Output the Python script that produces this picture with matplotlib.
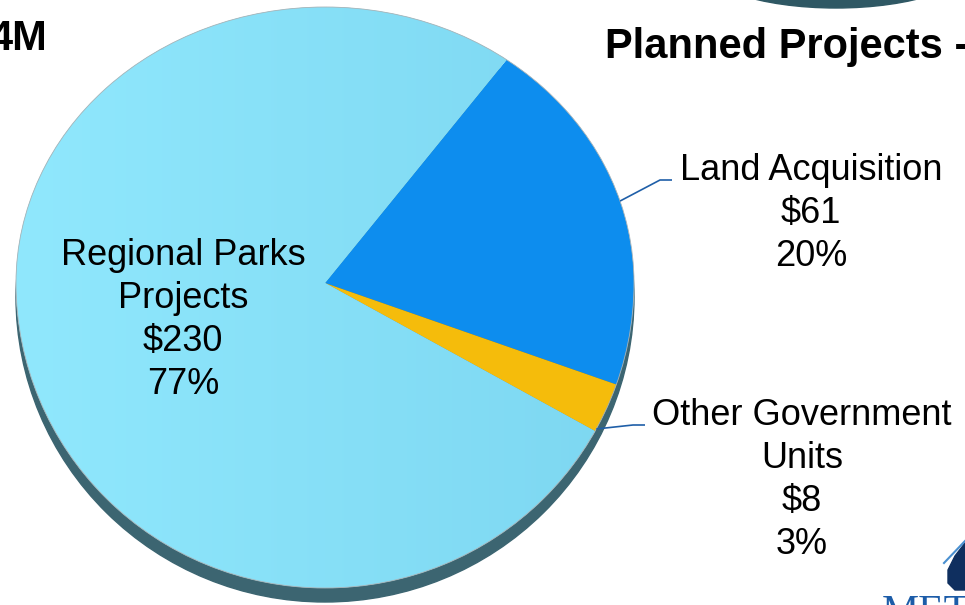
import numpy as np
import matplotlib.pyplot as plt
from matplotlib.patches import Ellipse, Polygon
from matplotlib.colors import LinearSegmentedColormap
from matplotlib.transforms import Transform, Affine2D

plt.rcParams['font.family'] = ['Liberation Sans', 'DejaVu Sans']

##################################################################
# Data: planned projects split ($ millions)

categories = ['Land Acquisition', 'Other Government Units', 'Regional Parks Projects']
label_lines = [['Land Acquisition'], ['Other Government', 'Units'], ['Regional Parks', 'Projects']]
amounts = [61, 8, 230]
colors = ['#0d8dee', '#f5bc0b', '#88e2f9']

##################################################################
# Canvas in pixels, pie drawn as a tilted disc (far half looks shorter)

W, H = 965, 605
CX, CY, RX, RY = 325, 283, 309, 290
UP, DOWN = 276 / RY, 305 / RY


def P(x, y):
    # pixel position -> data coords where the pie has radius 1
    return (x - CX) / RX, (CY - y) / RY


class Tilt(Transform):
    # squash the far (upper) half of the disc, stretch the near half
    input_dims = output_dims = 2

    def transform_non_affine(self, xy):
        xy = np.array(xy, dtype=float)
        y = xy[:, 1]
        xy[:, 1] = np.where(y > 0, y * UP, y * DOWN)
        return xy


fig = plt.figure(figsize=(W / 100, H / 100), dpi=100)
ax = fig.add_axes([0, 0, 1, 1])
tilt = Tilt() + ax.transData

# 3D rim / shadow below the top face
rim = Ellipse((0, 0), 2, 2, color='#3c6571', zorder=0)
rim.set_transform(Tilt() + Affine2D().translate(0, -14 / RY) + ax.transData)
ax.add_patch(rim)

wedges, _ = ax.pie(amounts, colors=colors, startangle=54, counterclock=False,
                   radius=1, center=(0, 0), wedgeprops=dict(linewidth=0))
for w in wedges:
    w.set_transform(tilt)

# soft horizontal gradient on the big slice
cmap = LinearSegmentedColormap.from_list('sky', ['#90e8fd', '#7dd7f1'])
im = ax.imshow(np.linspace(0, 1, 256)[None, :], cmap=cmap, extent=(-1, 1, -1.2, 1.2),
               aspect='auto', zorder=1.1)
im.set_clip_path(wedges[2])

# thin grey outline of the top face
edge = Ellipse((0, 0), 2, 2, fill=False, edgecolor='#a9b4b8', lw=0.6, zorder=1.2)
edge.set_transform(tilt)
ax.add_patch(edge)

##################################################################
# Labels

total = sum(amounts)
label_pos = [(811, 180), (802, 425), (183, 265)]   # centre x, first baseline
leader_end = [672, 645, None]                        # x where the leader meets the text
leader_frac = [0.5, 0.05, None]                      # where on the arc the leader starts
line_gap = 43

for w, lines, amt, (lx, ly), frac, ex in zip(wedges, label_lines, amounts,
                                             label_pos, leader_frac, leader_end):
    lines = lines + [f'${amt}', f'{round(100 * amt / total)}%']
    for i, s in enumerate(lines):
        ax.text(*P(lx, ly + i * line_gap), s, ha='center', va='baseline',
                fontsize=26, color='black', zorder=3)
    if frac is not None:
        ang = np.deg2rad(w.theta1 + frac * (w.theta2 - w.theta1))
        x0, y0 = np.cos(ang), np.sin(ang)
        y0 = y0 * UP if y0 > 0 else y0 * DOWN
        tx, ty = P(ex, ly)
        kx = tx - 12 / RX
        ax.plot([x0, kx, tx], [y0, ty, ty], color='#1f5fa8', lw=1.2, zorder=2,
                solid_capstyle='butt')

##################################################################
# Slide pieces that fall inside the crop

ax.text(*P(47, 50), '4M', ha='right', va='baseline', fontsize=30, fontweight='bold')
ax.text(*P(605, 58), 'Planned Projects -', ha='left', va='baseline',
        fontsize=30, fontweight='bold')

ax.add_patch(Ellipse(P(836, -40), 280 / RX, 96 / RY, color='#2f5864', zorder=0))

logo = [(965, 543), (955, 556), (948, 570), (948, 583), (955, 590), (965, 590)]
ax.add_patch(Polygon([P(x, y) for x, y in logo], closed=True, color='#0f2f5f', zorder=2))
ax.plot(*zip(P(944, 563), P(965, 541)), color='#4a90d0', lw=1.5)
ax.text(*P(882, 594), 'METRO', ha='left', va='top', fontsize=30,
        family=['Liberation Serif', 'DejaVu Serif'], color='#1c5ca8')

ax.set_aspect('auto')
ax.set_xlim(P(0, 0)[0], P(W, 0)[0])
ax.set_ylim(P(0, H)[1], P(0, 0)[1])
ax.set_axis_off()

fig.savefig('out.png', dpi=100)
